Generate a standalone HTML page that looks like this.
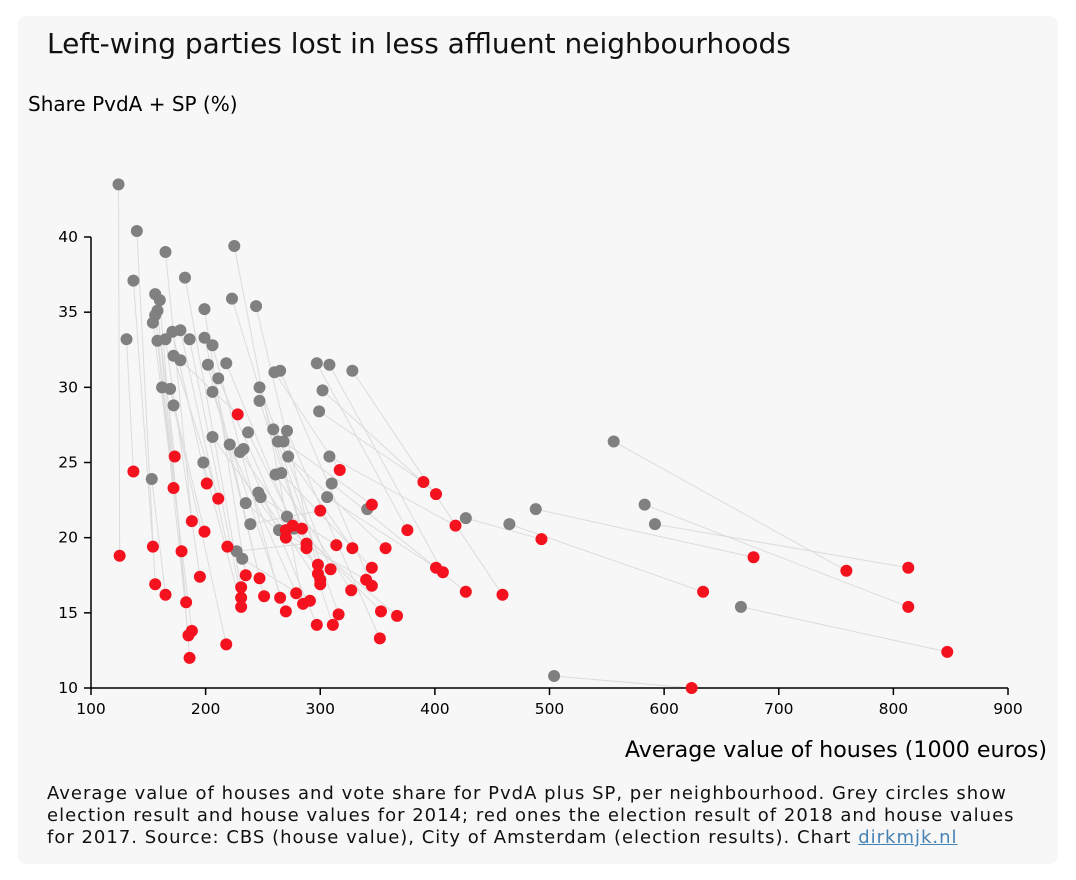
<!DOCTYPE html>
<html><head><meta charset="utf-8"><style>
body{margin:0;background:#fff;width:1076px;height:880px;overflow:hidden;font-family:"DejaVu Sans",sans-serif;}
#card{position:absolute;left:18px;top:16px;width:1040px;height:848px;background:#f7f7f7;border-radius:8px;}
#title{position:absolute;left:47px;top:27px;font-size:28px;color:#111;white-space:nowrap;}
#cap{position:absolute;left:47px;top:783px;width:1000px;font-size:18px;letter-spacing:1px;line-height:22px;color:#111;}
#cap a{color:#4682b4;text-decoration:underline;}
svg{position:absolute;left:0;top:0;}
</style></head><body>
<div id="card"></div>
<div id="title">Left-wing parties lost in less affluent neighbourhoods</div>
<svg id="chart" width="1076" height="880"></svg>
<div id="cap">Average value of houses and vote share for PvdA plus SP, per neighbourhood. Grey circles show election result and house values for 2014; red ones the election result of 2018 and house values for 2017. Source: CBS (house value), City of Amsterdam (election results). Chart <a>dirkmjk.nl</a></div>
<script>
const xTicks=[100,200,300,400,500,600,700,800,900];
const yTicks=[10,15,20,25,30,35,40];
const grey2014=[[124,43.5],[140,40.4],[137,37.1],[165,39.0],[182,37.3],[225,39.4],[131,33.2],[154,34.3],[156,36.2],[160,35.8],[158,35.1],[156,34.8],[158,33.1],[165,33.2],[171,33.7],[178,33.8],[186,33.2],[172,32.1],[178,31.8],[199,35.2],[199,33.3],[206,32.8],[218,31.6],[202,31.5],[211,30.6],[162,30.0],[169,29.9],[206,29.7],[172,28.8],[223,35.9],[244,35.4],[247,30.0],[247,29.1],[260,31.0],[265,31.1],[297,31.6],[308,31.5],[328,31.1],[302,29.8],[299,28.4],[259,27.2],[271,27.1],[263,26.4],[268,26.4],[237,27.0],[206,26.7],[221,26.2],[230,25.7],[233,25.9],[272,25.4],[308,25.4],[266,24.3],[261,24.2],[198,25.0],[153,23.9],[310,23.6],[246,23.0],[248,22.7],[235,22.3],[306,22.7],[341,21.9],[271,21.4],[239,20.9],[264,20.5],[277,20.6],[227,19.1],[232,18.6]];
const red2018=[[125,18.8],[137,24.4],[173,25.4],[172,23.3],[154,19.4],[156,16.9],[165,16.2],[183,15.7],[188,13.8],[185,13.5],[186,12.0],[179,19.1],[188,21.1],[199,20.4],[195,17.4],[201,23.6],[211,22.6],[219,19.4],[218,12.9],[228,28.2],[231,16.7],[231,16.0],[231,15.4],[235,17.5],[247,17.3],[251,16.1],[265,16.0],[270,15.1],[279,16.3],[285,15.6],[291,15.8],[297,14.2],[311,14.2],[316,14.9],[270,20.0],[270,20.5],[276,20.8],[284,20.6],[288,19.6],[288,19.3],[300,21.8],[298,18.2],[298,17.6],[300,17.2],[300,16.9],[309,17.9],[314,19.5],[328,19.3],[327,16.5],[340,17.2],[345,16.8],[345,18.0],[345,22.2],[317,24.5],[353,15.1],[357,19.3],[352,13.3],[367,14.8],[376,20.5],[390,23.7],[401,22.9],[418,20.8],[401,18.0],[407,17.7],[427,16.4],[459,16.2]];
const greyFar=[[427,21.3],[465,20.9],[488,21.9],[556,26.4],[583,22.2],[592,20.9],[667,15.4],[504,10.8]];
const redFar=[[493,19.9],[634,16.4],[678,18.7],[759,17.8],[813,15.4],[813,18.0],[847,12.4],[624,10.0]];
const NS="http://www.w3.org/2000/svg";
const svg=document.getElementById('chart');
const X=v=>91+(v-100)*(917/800);
const Y=v=>688-(v-10)*(451/30);
function mk(t,a,p){const e=document.createElementNS(NS,t);for(const k in a)e.setAttribute(k,a[k]);(p||svg).appendChild(e);return e;}
const gs=grey2014.map((d,i)=>i).sort((a,b)=>grey2014[a][0]-grey2014[b][0]);
const rs=red2018.map((d,i)=>i).sort((a,b)=>red2018[a][0]-red2018[b][0]);
const lg=mk('g',{});


function conn(g,r){const l=mk('line',{x1:X(g[0]),y1:Y(g[1]),x2:X(r[0]),y2:Y(r[1]),stroke:'#dcdcdc','stroke-width':1},lg);
 
 }
for(let k=0;k<Math.min(gs.length,rs.length);k++)conn(grey2014[gs[k]],red2018[rs[k]]);
greyFar.forEach((g,i)=>conn(g,redFar[i]));
const ax=mk('g',{'font-size':15.5,fill:'#000'});


mk('line',{x1:91,y1:688,x2:1008,y2:688,stroke:'#000','stroke-width':1.5},ax);
mk('line',{x1:91,y1:Y(40),x2:91,y2:688,stroke:'#000','stroke-width':1.5},ax);
xTicks.forEach(t=>{mk('line',{x1:X(t),y1:688,x2:X(t),y2:695,stroke:'#000','stroke-width':1.5},ax);
 const e=mk('text',{x:X(t),y:714,'text-anchor':'middle'},ax);e.textContent=t;
 
 });
yTicks.forEach(t=>{mk('line',{x1:84,y1:Y(t),x2:91,y2:Y(t),stroke:'#000','stroke-width':1.5},ax);
 const e=mk('text',{x:78,y:Y(t)+5,'text-anchor':'end'},ax);e.textContent=t;
 
 });
const yt=mk('text',{x:28,y:111,'font-size':20});yt.textContent='Share PvdA + SP (%)';


const xt=mk('text',{x:1047,y:757,'font-size':22.2,'text-anchor':'end'});xt.textContent='Average value of houses (1000 euros)';


grey2014.concat(greyFar).forEach(d=>{const c=mk('circle',{cx:X(d[0]),cy:Y(d[1]),r:6,fill:'#808080'});
 
 });
red2018.concat(redFar).forEach(d=>{const c=mk('circle',{cx:X(d[0]),cy:Y(d[1]),r:6,fill:'#f5121f'});
 
 });
</script>
</body></html>
